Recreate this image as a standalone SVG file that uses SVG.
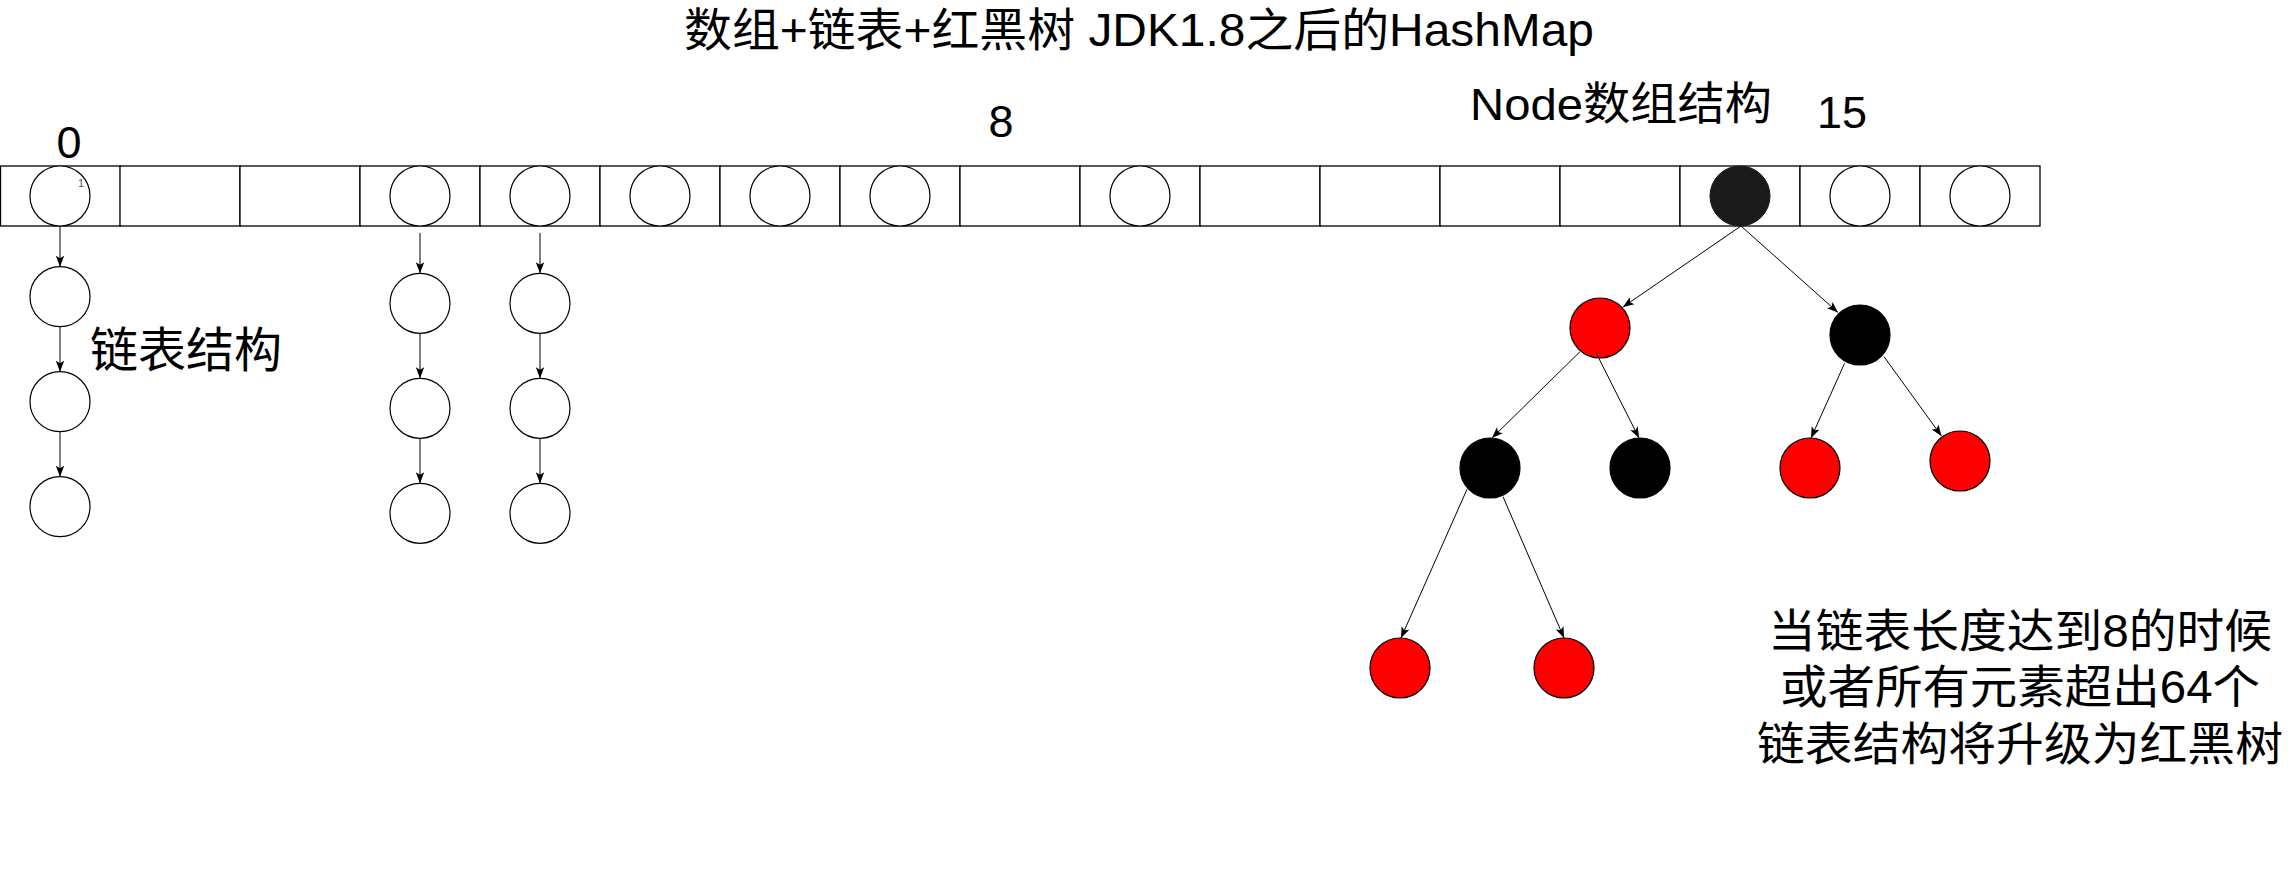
<svg xmlns="http://www.w3.org/2000/svg" width="2291" height="886" viewBox="0 0 2291 886">
<defs>
<style>
text{font-family:"Liberation Sans","Noto Sans CJK SC",Arial,sans-serif;fill:#000}
.cell{fill:#fff;stroke:#000;stroke-width:1.3}
.w{fill:#fff;stroke:#000;stroke-width:1.2}
.r{fill:#ff0000;stroke:#000;stroke-width:1.2}
.b{fill:#000;stroke:#000;stroke-width:1.2}
.root{fill:#1a1a1a;stroke:#1a1a1a;stroke-width:1}
.e{stroke:#000;stroke-width:1;fill:none;marker-end:url(#ah)}
.num{font-size:45px;text-anchor:middle}
</style>
<marker id="ah" markerUnits="userSpaceOnUse" markerWidth="12" markerHeight="10" viewBox="0 0 12 10" refX="11" refY="5" orient="auto">
<path d="M0,0.8 L11,5 L0,9.2 L2.5,5 Z" fill="#000"/>
</marker>
</defs>
<rect width="2291" height="886" fill="#fff"/>

<g id="title"><text x="684" y="46" font-size="46" textLength="910" lengthAdjust="spacingAndGlyphs">数组+链表+红黑树 JDK1.8之后的HashMap</text></g>

<g id="label-0"><text class="num" x="69" y="158">0</text></g>
<g id="label-8"><text class="num" x="1001" y="137">8</text></g>
<g id="label-15"><text class="num" x="1842" y="128">15</text></g>
<g id="label-node-array"><text x="1470" y="120" font-size="45" textLength="302" lengthAdjust="spacingAndGlyphs">Node数组结构</text></g>
<g id="label-list"><text x="90" y="367" font-size="48" textLength="192" lengthAdjust="spacingAndGlyphs">链表结构</text></g>
<g id="label-note" font-size="46" text-anchor="middle">
<text x="2020" y="647" textLength="504" lengthAdjust="spacingAndGlyphs">当链表长度达到8的时候</text>
<text x="2020" y="703" textLength="480" lengthAdjust="spacingAndGlyphs">或者所有元素超出64个</text>
<text x="2020" y="760" textLength="526" lengthAdjust="spacingAndGlyphs">链表结构将升级为红黑树</text>
</g>

<g id="array">
<g id="cell-0"><rect class="cell" x="0.5" y="166" width="120" height="60"/></g>
<g id="cell-1"><rect class="cell" x="120" y="166" width="120" height="60"/></g>
<g id="cell-2"><rect class="cell" x="240" y="166" width="120" height="60"/></g>
<g id="cell-3"><rect class="cell" x="360" y="166" width="120" height="60"/></g>
<g id="cell-4"><rect class="cell" x="480" y="166" width="120" height="60"/></g>
<g id="cell-5"><rect class="cell" x="600" y="166" width="120" height="60"/></g>
<g id="cell-6"><rect class="cell" x="720" y="166" width="120" height="60"/></g>
<g id="cell-7"><rect class="cell" x="840" y="166" width="120" height="60"/></g>
<g id="cell-8"><rect class="cell" x="960" y="166" width="120" height="60"/></g>
<g id="cell-9"><rect class="cell" x="1080" y="166" width="120" height="60"/></g>
<g id="cell-10"><rect class="cell" x="1200" y="166" width="120" height="60"/></g>
<g id="cell-11"><rect class="cell" x="1320" y="166" width="120" height="60"/></g>
<g id="cell-12"><rect class="cell" x="1440" y="166" width="120" height="60"/></g>
<g id="cell-13"><rect class="cell" x="1560" y="166" width="120" height="60"/></g>
<g id="cell-14"><rect class="cell" x="1680" y="166" width="120" height="60"/></g>
<g id="cell-15"><rect class="cell" x="1800" y="166" width="120" height="60"/></g>
<g id="cell-16"><rect class="cell" x="1920" y="166" width="120" height="60"/></g>
</g>

<g id="bucket-0"><ellipse class="w" cx="60" cy="196" rx="30" ry="30"/><text x="78" y="187" font-size="11" fill="#555" style="fill:#555">1</text></g>
<g id="bucket-3"><ellipse class="w" cx="420" cy="196" rx="30" ry="30"/></g>
<g id="bucket-4"><ellipse class="w" cx="540" cy="196" rx="30" ry="30"/></g>
<g id="bucket-5"><ellipse class="w" cx="660" cy="196" rx="30" ry="30"/></g>
<g id="bucket-6"><ellipse class="w" cx="780" cy="196" rx="30" ry="30"/></g>
<g id="bucket-7"><ellipse class="w" cx="900" cy="196" rx="30" ry="30"/></g>
<g id="bucket-9"><ellipse class="w" cx="1140" cy="196" rx="30" ry="30"/></g>
<g id="bucket-14-root"><ellipse class="root" cx="1740" cy="196" rx="30" ry="30"/></g>
<g id="bucket-15"><ellipse class="w" cx="1860" cy="196" rx="30" ry="30"/></g>
<g id="bucket-16"><ellipse class="w" cx="1980" cy="196" rx="30" ry="30"/></g>

<g id="list0-1"><ellipse class="w" cx="60" cy="296.7" rx="30" ry="30"/></g>
<g id="list0-2"><ellipse class="w" cx="60" cy="401.7" rx="30" ry="30"/></g>
<g id="list0-3"><ellipse class="w" cx="60" cy="506.7" rx="30" ry="30"/></g>
<g id="list3-1"><ellipse class="w" cx="420" cy="303.3" rx="30" ry="30"/></g>
<g id="list3-2"><ellipse class="w" cx="420" cy="408.3" rx="30" ry="30"/></g>
<g id="list3-3"><ellipse class="w" cx="420" cy="513.3" rx="30" ry="30"/></g>
<g id="list4-1"><ellipse class="w" cx="540" cy="303.3" rx="30" ry="30"/></g>
<g id="list4-2"><ellipse class="w" cx="540" cy="408.3" rx="30" ry="30"/></g>
<g id="list4-3"><ellipse class="w" cx="540" cy="513.3" rx="30" ry="30"/></g>

<g id="tree-l1"><ellipse class="r" cx="1600" cy="328" rx="30" ry="30"/></g>
<g id="tree-r1"><ellipse class="b" cx="1860" cy="335" rx="30" ry="30"/></g>
<g id="tree-l2a"><ellipse class="b" cx="1490" cy="468" rx="30" ry="30"/></g>
<g id="tree-l2b"><ellipse class="b" cx="1640" cy="468" rx="30" ry="30"/></g>
<g id="tree-r2a"><ellipse class="r" cx="1810" cy="468" rx="30" ry="30"/></g>
<g id="tree-r2b"><ellipse class="r" cx="1960" cy="461" rx="30" ry="30"/></g>
<g id="tree-l3a"><ellipse class="r" cx="1400" cy="668" rx="30" ry="30"/></g>
<g id="tree-l3b"><ellipse class="r" cx="1564" cy="668" rx="30" ry="30"/></g>

<g id="connectors">
<line class="e" x1="60" y1="226" x2="60" y2="266.7"/>
<line class="e" x1="60" y1="326.7" x2="60" y2="371.7"/>
<line class="e" x1="60" y1="431.7" x2="60" y2="476.7"/>
<line class="e" x1="420" y1="233" x2="420" y2="273.3"/>
<line class="e" x1="420" y1="333.3" x2="420" y2="378.3"/>
<line class="e" x1="420" y1="438.3" x2="420" y2="483.3"/>
<line class="e" x1="540" y1="233" x2="540" y2="273.3"/>
<line class="e" x1="540" y1="333.3" x2="540" y2="378.3"/>
<line class="e" x1="540" y1="438.3" x2="540" y2="483.3"/>
<line class="e" x1="1741" y1="226" x2="1623" y2="307"/>
<line class="e" x1="1741" y1="226" x2="1838" y2="312.5"/>
<line class="e" x1="1580" y1="351.7" x2="1492" y2="438"/>
<line class="e" x1="1595.5" y1="351.7" x2="1639" y2="438"/>
<line class="e" x1="1844.6" y1="363.3" x2="1811" y2="438"/>
<line class="e" x1="1884" y1="356.7" x2="1941.5" y2="436"/>
<line class="e" x1="1467" y1="489.3" x2="1401" y2="638"/>
<line class="e" x1="1503" y1="496.7" x2="1564" y2="638"/>
</g>
</svg>
